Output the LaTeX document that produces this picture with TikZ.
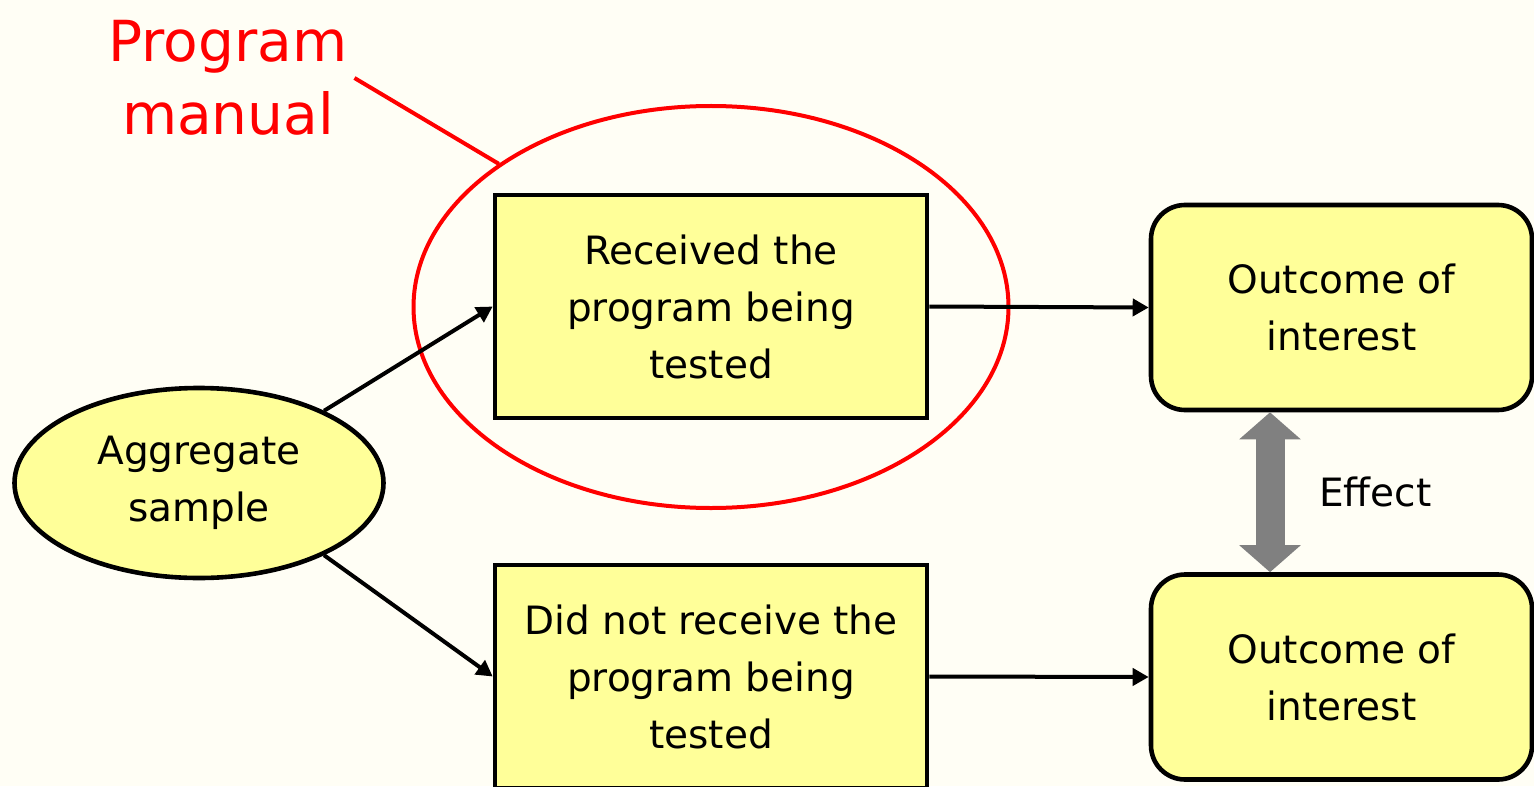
\documentclass[tikz,border=0pt]{standalone}
\usepackage{fontspec}
\setmainfont{DejaVu Sans}
\usetikzlibrary{arrows.meta}
\usetikzlibrary{shapes.geometric}
\definecolor{paper}{HTML}{FFFEF5}
\definecolor{boxyellow}{HTML}{FFFF99}
\definecolor{effectgray}{HTML}{808080}
\tikzset{txt/.style = {font=\fontsize{19.5}{28.5}\selectfont, align=center},
         sqbox/.style = {txt, draw, fill=boxyellow, line width=2.3pt,
                         minimum width=216pt, minimum height=111.5pt},
         roundbox/.style = {txt, draw, fill=boxyellow, line width=2.3pt, rounded corners=17pt,
                            minimum width=190.5pt, minimum height=102.5pt},
         flow/.style = {line width=2pt, -{Triangle[length=8pt,width=8.5pt]}}}

\begin{document}
\begin{tikzpicture}[x=0.5pt,y=-0.5pt]
    \clip (0,0) rectangle (1534,786);
    \fill[paper] (0,0) rectangle (1534,786);

    \node[txt, ellipse, draw, fill=boxyellow, line width=2.3pt, inner sep=0pt,
          minimum width=184.5pt, minimum height=95pt] (agg) at (199,483) {Aggregate\\sample};
    \node[sqbox] (got) at (711,306.5) {Received the\\program being\\tested};
    \node[sqbox] (notgot) at (711,676.5) {Did not receive the\\program being\\tested};
    \node[roundbox] (outa) at (1341.5,307.5) {Outcome of\\interest};
    \node[roundbox] (outb) at (1341.5,677) {Outcome of\\interest};

    \node[ellipse, draw=red, line width=2pt, minimum width=297.5pt, minimum height=201pt]
        (manual) at (711,307) {};
    \node[text=red, align=center, font=\fontsize{28.3}{36.5}\selectfont] (title) at (228,78) {Program\\manual};
    \draw[red, line width=2pt] (title.east) -- (manual.146);

    \draw[flow] (agg.30) -- (got.west);
    \draw[flow] (agg.-30) -- (notgot.west);
    \draw[flow] (got.east) -- (outa.west);
    \draw[flow] (notgot.east) -- (outb.west);

    \draw[effectgray, line width=14.5pt, {Triangle[length=13.5pt,width=30pt]}-{Triangle[length=13.5pt,width=30pt]}]
        ([xshift=-35.75pt]outa.south) -- node[txt, text=black, right=14pt] {Effect} ([xshift=-35.75pt]outb.north);
  \end{tikzpicture}
\end{document}
